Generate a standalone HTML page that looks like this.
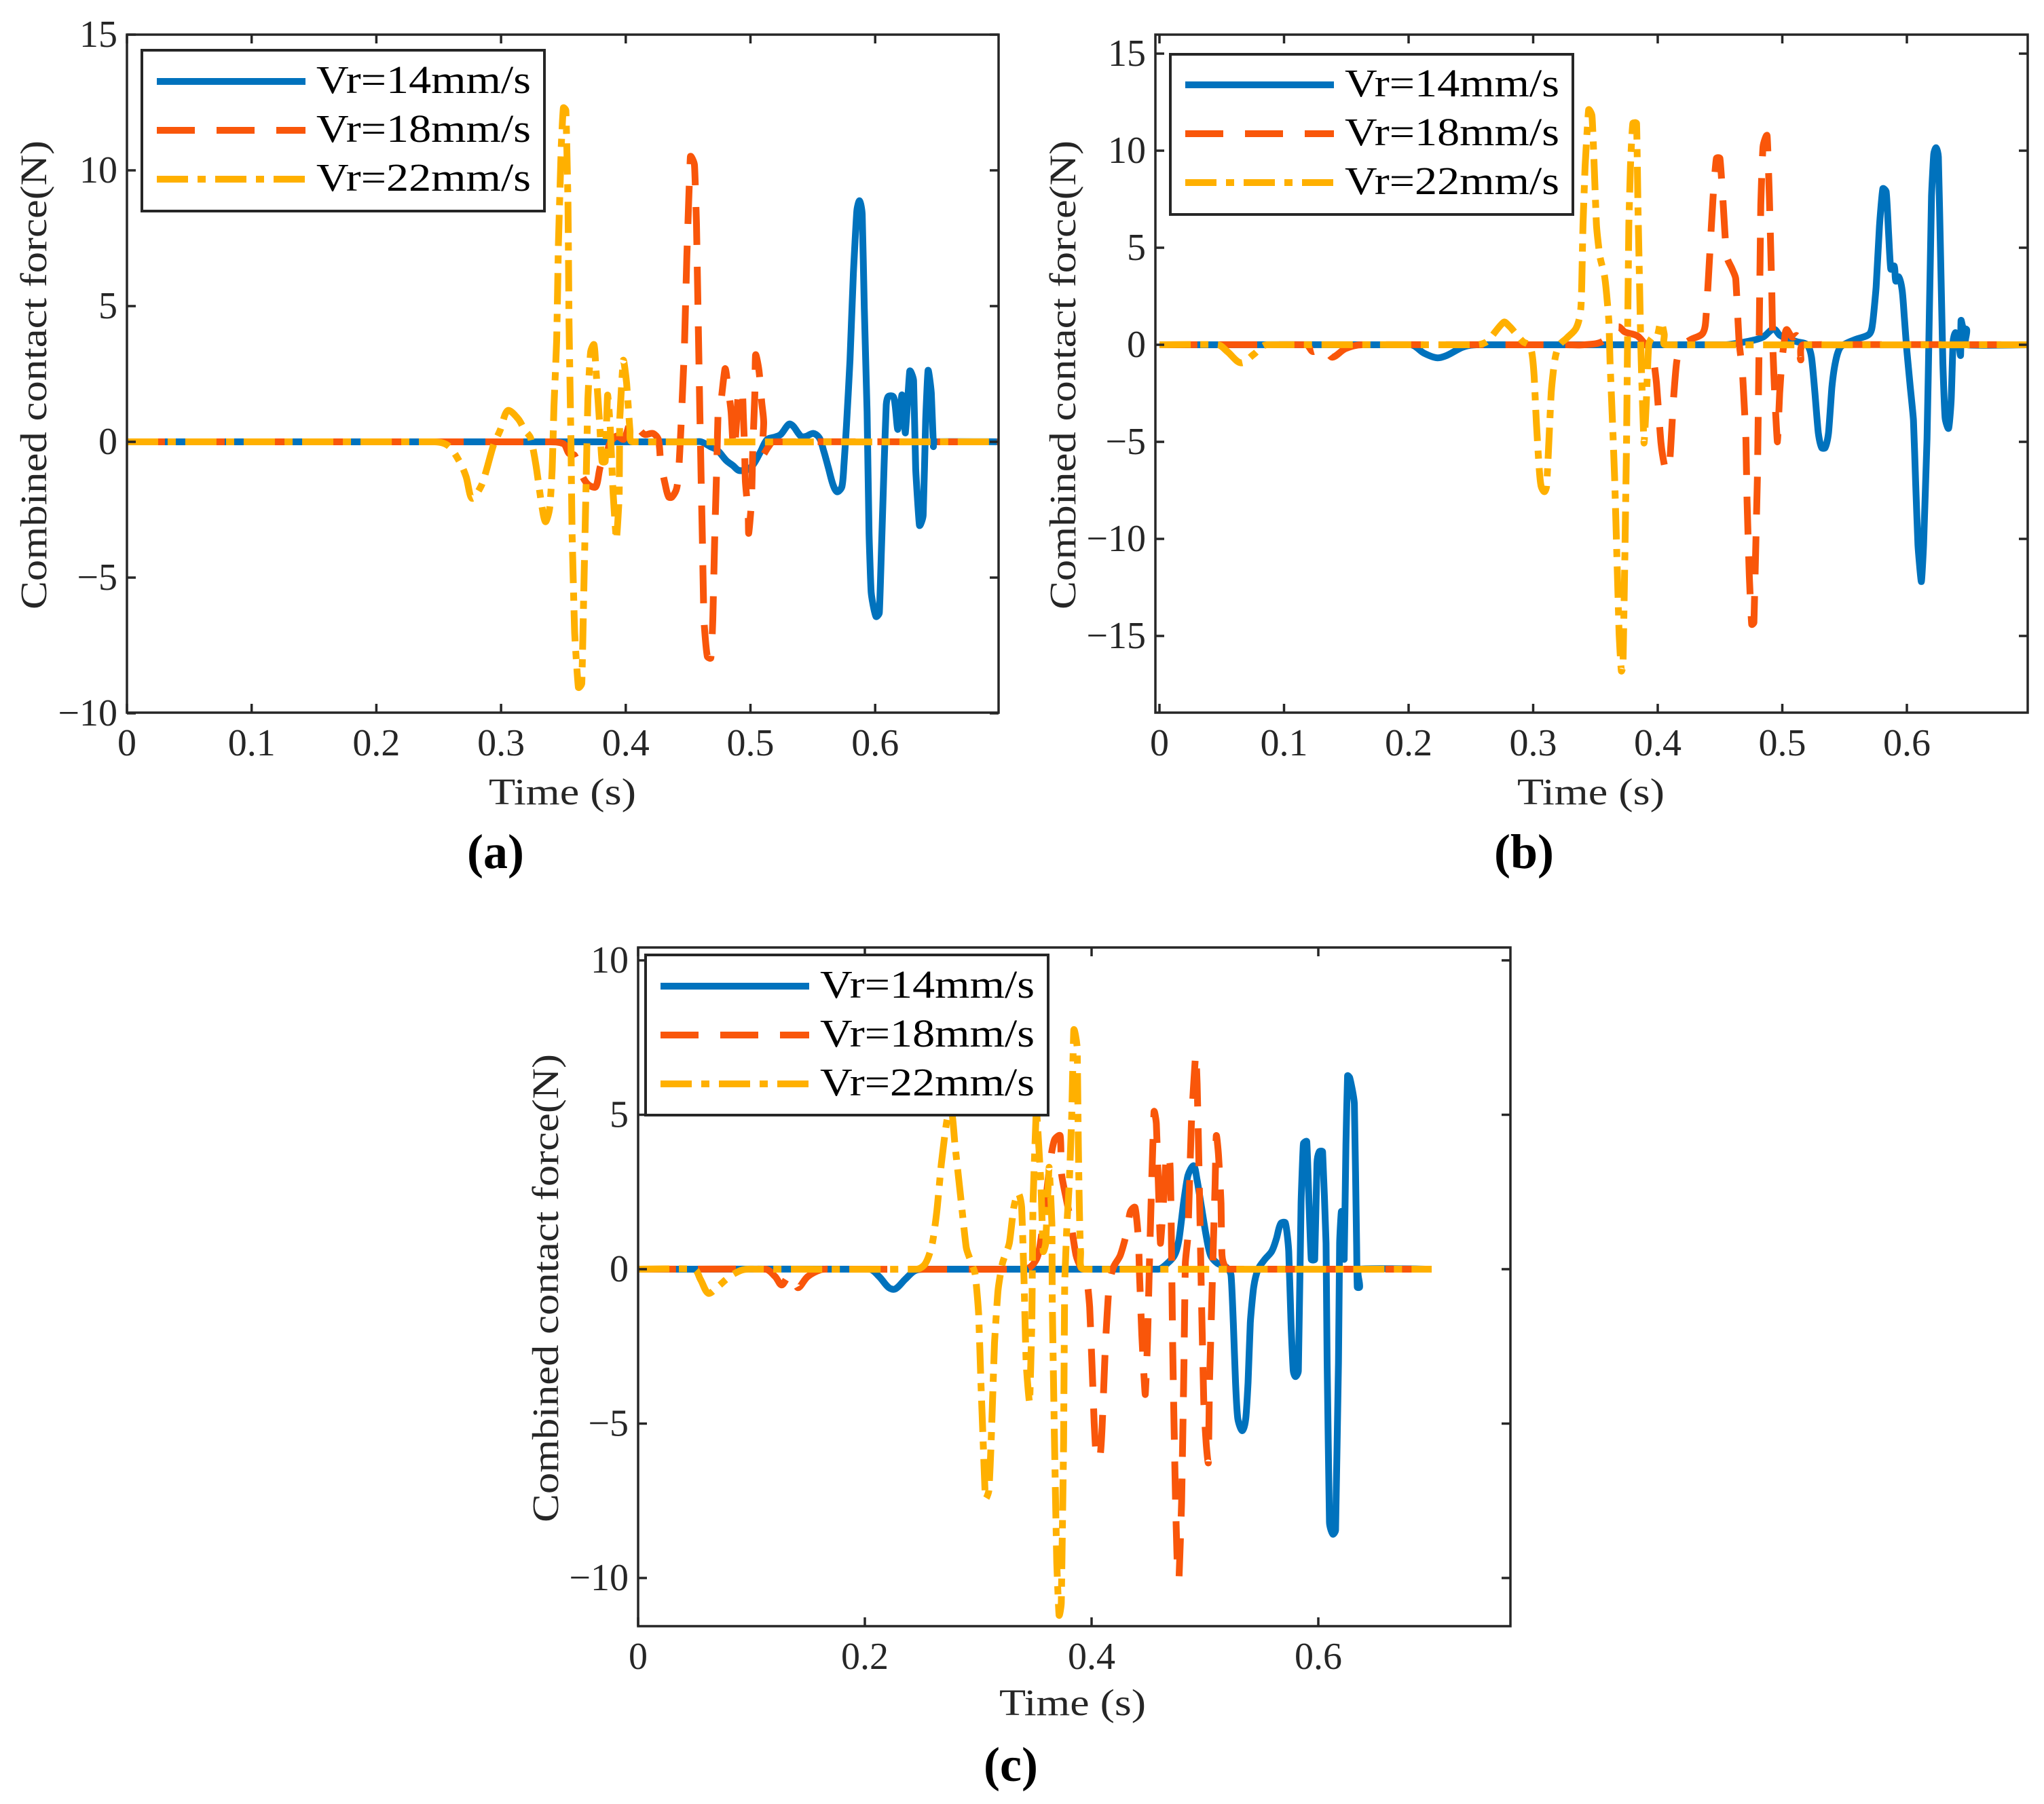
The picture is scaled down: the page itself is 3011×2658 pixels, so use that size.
<!DOCTYPE html>
<html lang="en">
<head>
<meta charset="utf-8">
<title>Combined contact force vs time</title>
<style>
html,body{margin:0;padding:0;background:#fff;}
svg{display:block;font-family:"Liberation Serif",serif;}
.tick-label{font-size:56px;fill:#262626;}
.axis-title{font-size:55px;fill:#262626;}
.legend-text{font-size:58px;fill:#000;}
.panel-tag{font-size:72px;font-weight:bold;fill:#000;text-anchor:middle;}
</style>
</head>
<body>
<svg id="figure" xmlns="http://www.w3.org/2000/svg" width="3011" height="2658" viewBox="0 0 3011 2658">
<rect width="3011" height="2658" fill="#fff"/>
<defs>
<clipPath id="clip-a"><rect x="187" y="51" width="1284" height="999"/></clipPath>
<clipPath id="clip-b"><rect x="1702" y="51" width="1285" height="999"/></clipPath>
<clipPath id="clip-c"><rect x="940" y="1396" width="1285" height="1000"/></clipPath>
</defs>

<g>
  <g id="marks-a" clip-path="url(#clip-a)"></g>
  <g id="axes-a"></g>
  <text class="axis-title" transform="translate(68,898) rotate(-90)" textLength="691" lengthAdjust="spacingAndGlyphs">Combined contact force(N)</text>
  <text class="axis-title" x="720" y="1185" textLength="217" lengthAdjust="spacingAndGlyphs">Time (s)</text>
  <g>
    <rect x="209" y="74" width="593" height="237" fill="#fff" stroke="#262626" stroke-width="4"/>
    <line x1="231" x2="450" y1="120" y2="120" stroke="#0072BD" stroke-width="10"/>
    <line x1="231" x2="450" y1="192" y2="192" stroke="#F9560A" stroke-width="10" stroke-dasharray="56 32"/>
    <line x1="231" x2="450" y1="264" y2="264" stroke="#FFB000" stroke-width="10" stroke-dasharray="46 14 12 14"/>
    <text class="legend-text" x="466" y="137" textLength="316" lengthAdjust="spacingAndGlyphs">Vr=14mm/s</text>
    <text class="legend-text" x="466" y="209" textLength="316" lengthAdjust="spacingAndGlyphs">Vr=18mm/s</text>
    <text class="legend-text" x="466" y="281" textLength="316" lengthAdjust="spacingAndGlyphs">Vr=22mm/s</text>
  </g>
  <text class="panel-tag" x="730" y="1279">(a)</text>
</g>

<g>
  <g id="marks-b" clip-path="url(#clip-b)"></g>
  <g id="axes-b"></g>
  <text class="axis-title" transform="translate(1584,898) rotate(-90)" textLength="691" lengthAdjust="spacingAndGlyphs">Combined contact force(N)</text>
  <text class="axis-title" x="2235" y="1185" textLength="217" lengthAdjust="spacingAndGlyphs">Time (s)</text>
  <g>
    <rect x="1724" y="80" width="593" height="236" fill="#fff" stroke="#262626" stroke-width="4"/>
    <line x1="1746" x2="1965" y1="125" y2="125" stroke="#0072BD" stroke-width="10"/>
    <line x1="1746" x2="1965" y1="197" y2="197" stroke="#F9560A" stroke-width="10" stroke-dasharray="56 32"/>
    <line x1="1746" x2="1965" y1="269" y2="269" stroke="#FFB000" stroke-width="10" stroke-dasharray="46 14 12 14"/>
    <text class="legend-text" x="1981" y="142" textLength="316" lengthAdjust="spacingAndGlyphs">Vr=14mm/s</text>
    <text class="legend-text" x="1981" y="214" textLength="316" lengthAdjust="spacingAndGlyphs">Vr=18mm/s</text>
    <text class="legend-text" x="1981" y="286" textLength="316" lengthAdjust="spacingAndGlyphs">Vr=22mm/s</text>
  </g>
  <text class="panel-tag" x="2245" y="1279">(b)</text>
</g>

<g>
  <g id="marks-c" clip-path="url(#clip-c)"></g>
  <g id="axes-c"></g>
  <text class="axis-title" transform="translate(822,2243) rotate(-90)" textLength="690" lengthAdjust="spacingAndGlyphs">Combined contact force(N)</text>
  <text class="axis-title" x="1472" y="2527" textLength="216" lengthAdjust="spacingAndGlyphs">Time (s)</text>
  <g>
    <rect x="951" y="1407" width="593" height="236" fill="#fff" stroke="#262626" stroke-width="4"/>
    <line x1="973" x2="1192" y1="1453" y2="1453" stroke="#0072BD" stroke-width="10"/>
    <line x1="973" x2="1192" y1="1525" y2="1525" stroke="#F9560A" stroke-width="10" stroke-dasharray="56 32"/>
    <line x1="973" x2="1192" y1="1597" y2="1597" stroke="#FFB000" stroke-width="10" stroke-dasharray="46 14 12 14"/>
    <text class="legend-text" x="1208" y="1470" textLength="316" lengthAdjust="spacingAndGlyphs">Vr=14mm/s</text>
    <text class="legend-text" x="1208" y="1542" textLength="316" lengthAdjust="spacingAndGlyphs">Vr=18mm/s</text>
    <text class="legend-text" x="1208" y="1614" textLength="316" lengthAdjust="spacingAndGlyphs">Vr=22mm/s</text>
  </g>
  <text class="panel-tag" x="1489" y="2624">(c)</text>
</g>
</svg>

<script>
// ===== Tick labels =====
const aXTicks = [0, 0.1, 0.2, 0.3, 0.4, 0.5, 0.6];
const aYTicks = [-10, -5, 0, 5, 10, 15];
const bXTicks = [0, 0.1, 0.2, 0.3, 0.4, 0.5, 0.6];
const bYTicks = [-15, -10, -5, 0, 5, 10, 15];
const cXTicks = [0, 0.2, 0.4, 0.6];
const cYTicks = [-10, -5, 0, 5, 10];

// ===== Panel (a) =====
const aBlueT = [0,.455,.4605,.468,.4735,.4807,.4861,.4905,.4954,.4986,.5025,.508,.5133,.5199,.5242,.5308,.534,.5406,.5444,.5504,.5553,.5586,.5624,.5662,.5695,.5733,.575,.577,.5798,.5825,.5853,.5875,.5896,.5913,.5935,.5951,.5968,.6006,.6033,.605,.6072,.6089,.6105,.6144,.616,.6182,.6215,.6242,.6277,.6308,.6325,.6355,.6385,.6405,.6424,.6450,.6467,.6475,.7];
const aBlueF = [0,0,0,-.18,-.31,-.69,-.88,-1.05,-1.05,-1,-.82,-.37,.08,.18,.27,.65,.59,.2,.2,.31,.14,-.31,-.94,-1.58,-1.84,-1.65,-.82,.59,3,6.2,8.5,8.88,8.37,4.92,1.1,-3.37,-5.54,-6.43,-6.3,-4,-.82,1.35,1.67,1.67,1.35,.46,1.73,.33,2.6,2.25,-1,-3.07,-2.7,.8,2.63,1.8,-.17,0,0];
const aOrangeT = [0,.3355,.35,.3545,.359,.3647,.37,.376,.38,.3843,.3865,.3925,.3985,.4045,.41,.4153,.4217,.4262,.428,.4317,.4344,.4371,.4409,.4426,.4442,.447,.449,.4518,.4551,.4567,.4578,.4594,.4605,.4616,.4627,.4654,.4682,.4698,.4714,.473,.4741,.4763,.4796,.4817,.4845,.4861,.4872,.4888,.4905,.4932,.4943,.4954,.4959,.4981,.4986,.5008,.5019,.5035,.5041,.5068,.509,.5106,.5095,.5144,.5185,.7];
const aOrangeF = [0,0,-.07,-.43,-.5,-1.22,-1.58,-1.65,-.86,-.79,-.14,.21,.1,.79,.5,.27,.31,.08,-.75,-1.58,-2.03,-2.03,-1.7,-.94,.46,3.4,6.84,10.5,10.2,8,5.2,1.1,-1.45,-4,-6.56,-7.9,-7.96,-6.56,-3.37,-.82,1.1,1.48,2.69,2.12,1.1,-.18,-.24,.71,1.86,1.93,.97,-.43,-1.45,-2.6,-3.37,-2.2,-.18,1.73,3.2,2.63,1.48,.71,-.5,-.18,0,0];
const aYellowT = [0,.2466,.2575,.2666,.272,.2766,.2838,.288,.2938,.2993,.3053,.3135,.319,.3237,.328,.332,.3355,.339,.341,.3424,.3446,.346,.3483,.35,.352,.3537,.3545,.356,.357,.359,.362,.3647,.3663,.368,.3696,.3718,.3745,.376,.379,.381,.3835,.3854,.3875,.3898,.3925,.3947,.3952,.398,.4007,.4034,.4055,.7];
const aYellowF = [0,0,-.14,-.72,-1.29,-2.08,-1.65,-1.08,-.14,.43,1.15,.86,.43,.14,-.86,-2.15,-2.94,-2.44,-1,1.29,3.73,7.3,10.9,12.3,12.2,8.75,4.45,.14,-3.44,-7.03,-9.04,-8.9,-5.6,-2,1.58,3.3,3.58,2.73,.72,-.72,-.72,1.72,.6,-1.86,-3.59,-2,.86,3,2.15,.43,0,0];

// ===== Panel (b) =====
const bBlueT = [0,.2017,.2123,.2228,.2306,.2437,.2546,.4534,.4734,.4843,.4916,.4942,.4979,.5043,.5116,.5198,.5234,.5262,.5289,.5316,.5344,.5371,.5398,.5425,.5462,.5516,.5589,.5698,.5725,.5753,.578,.5807,.5834,.5853,.5871,.5898,.5911,.5934,.5962,.598,.5998,.6025,.6053,.6071,.6089,.6116,.6134,.6162,.618,.6198,.6216,.6235,.6253,.6271,.6289,.6307,.6335,.6356,.6371,.6389,.6407,.6431,.6435,.6453,.648,.6482,.7];
const bBlueF = [0,0,-.43,-.67,-.55,-.12,0,0,.19,.39,.78,.78,.5,.31,.16,0,-.62,-2.5,-4.53,-5.3,-5.3,-4.53,-2.2,-.94,-.16,.08,.28,.55,1.1,2.97,6.1,8.04,7.88,5.78,3.9,4.06,3.28,3.5,2.81,1.4,-.16,-2.03,-3.9,-7.18,-10.3,-12.2,-10.3,-4.84,1.4,7.65,9.83,10.15,9.68,4.53,-.94,-3.75,-4.3,-2.8,.16,.62,.47,-.55,1.25,.86,.78,0,0];
const bOrangeT = [0,.1177,.1232,.13,.134,.1388,.1493,.1624,.3264,.3409,.3553,.3681,.3736,.3836,.3905,.3953,.399,.4026,.4063,.409,.4108,.4126,.4153,.4199,.4262,.4362,.4389,.4417,.4444,.4471,.4499,.4526,.4553,.4599,.4626,.4653,.468,.4708,.4717,.4735,.4754,.4772,.48,.4812,.4827,.4845,.4878,.4896,.4915,.4924,.4942,.4961,.4979,.4997,.5016,.5034,.508,.5116,.5134,.5148,.517,.7];
const bOrangeF = [0,0,-.35,-.1,-.3,-.64,-.2,0,0,0,.16,.92,.66,.46,0,-.24,-2,-5.06,-6.47,-6.37,-4.86,-2.85,-.84,-.04,.26,.6,1.57,4.58,7.6,9.6,9.6,7.2,4.58,3.88,3.4,.16,-1.4,-4.86,-8.07,-11.9,-14.4,-14.3,-6.87,-.84,7.2,10.2,10.77,7.65,2.97,-.16,-2.97,-5,-2.5,-.86,.16,.78,.39,.47,0,-.78,0,0];
const bYellowT = [0,.0469,.0545,.0654,.0757,.0861,.2535,.2627,.2763,.2808,.2863,.2918,.2963,.299,.3008,.3026,.3045,.3063,.309,.3108,.3127,.3145,.3172,.3208,.3272,.3345,.3381,.339,.34,.3417,.3445,.3472,.349,.3508,.3535,.3572,.359,.3608,.3617,.3636,.3654,.3672,.369,.3708,.3721,.3736,.375,.3759,.3768,.3781,.38,.383,.3841,.3854,.3863,.3872,.389,.3909,.3927,.3954,.399,.4025,.4052,.4061,.7];
const bYellowF = [0,0,-.35,-.93,-.49,0,0,.16,1.16,.96,.56,.16,0,-.44,-1.65,-4.06,-6.06,-7.27,-7.57,-7.27,-4.86,-2.45,-.84,-.04,.36,.86,1.77,3.17,6.18,9.2,12.1,11.8,9.2,6.18,4.58,3.57,2.57,1.16,-.84,-3.86,-6.87,-10.9,-14.9,-16.8,-16.5,-10.9,-4.86,1.16,6.18,9.2,11.4,11.4,7.2,3.17,.16,-1.85,-5.06,-2.85,-.04,.36,.36,1.16,.56,0,0];

// ===== Panel (c) =====
const cBlueT = [0,.204,.2126,.2212,.2269,.2355,.2441,.2527,.459,.465,.4731,.4771,.4811,.485,.49,.493,.497,.501,.505,.511,.519,.523,.525,.527,.529,.533,.536,.538,.54,.543,.5469,.5529,.5589,.5629,.5669,.5709,.5739,.5759,.5779,.5799,.5824,.5848,.5868,.5898,.5918,.5938,.5968,.5988,.6008,.6038,.6068,.6078,.6098,.6128,.6152,.6178,.6188,.6204,.6228,.6244,.6258,.6278,.6318,.6338,.6344,.6364,.6368,.7];
const cBlueF = [0,0,-.24,-.6,-.64,-.33,-.05,0,0,.13,.45,.97,2.13,3.03,3.35,2.9,2,1.1,.45,.19,.06,-.19,-1.74,-3.68,-4.84,-5.23,-4.84,-3.68,-1.74,-.58,0,.32,.58,.97,1.48,1.5,.58,-1.74,-3.29,-3.48,-3.29,2.13,4.06,4.13,2.13,.32,.32,3.42,3.8,3.8,.84,-3.03,-8.19,-8.58,-8.45,-3.03,.84,1.87,.32,4.06,6.26,6.19,5.35,.84,-.58,-.58,0,0];
const cOrangeT = [0,.1123,.1209,.1266,.1324,.137,.141,.1496,.161,.17,.3413,.3513,.3553,.3593,.3633,.3673,.3723,.3733,.3763,.3813,.3863,.3913,.3953,.3983,.4003,.4023,.4043,.4073,.4093,.4123,.4153,.4193,.4253,.4313,.4343,.4383,.4413,.4423,.4443,.4473,.4493,.4513,.4533,.4551,.4571,.4591,.4607,.4631,.4661,.4691,.4701,.4707,.4715,.4727,.4741,.4755,.4771,.4794,.4815,.4827,.485,.488,.4918,.4931,.4947,.496,.497,.499,.501,.503,.504,.506,.5074,.509,.51,.512,.5142,.515,.518,.522,.7];
const cOrangeF = [0,0,-.24,-.51,-.24,-.2,-.6,-.24,-.02,0,0,.32,.97,2.13,3.42,4.19,4.32,3.16,2.52,1.61,.45,0,-.19,-1.23,-3.03,-4.97,-6.13,-6.13,-5.1,-2.39,-.58,.06,.45,1.23,1.87,2,.97,-.19,-2.13,-4.06,-2.39,.58,3.16,5.1,4.71,2.52,.84,2,3.74,3.42,1.87,0,-2.39,-4.97,-7.55,-9.48,-10,-7.55,-3.03,.19,1.1,4.7,6.97,6,3.42,.84,-1.1,-4.32,-5.6,-6.26,-3.68,-1.1,.84,2.77,4.32,3.68,2.13,.45,.06,0,0];
const cYellowT = [0,.0493,.055,.0619,.0693,.0808,.0923,.1037,.2455,.2535,.2595,.2635,.2675,.2725,.2766,.2794,.2844,.2894,.2934,.2974,.3004,.3024,.3044,.3064,.3094,.3114,.3144,.3174,.3214,.3274,.3314,.3353,.3383,.3403,.3423,.3453,.3473,.3483,.3513,.3553,.3573,.3595,.3625,.365,.3653,.3673,.3693,.3713,.3733,.3753,.3763,.3783,.3803,.3825,.3843,.3873,.3883,.3893,.3903,.3933,.7];
const cYellowF = [0,0,-.33,-.78,-.6,-.24,-.02,0,0,.19,.84,1.87,3.42,4.84,5.1,4.06,2.39,.71,.26,-.19,-1.48,-3.68,-5.61,-7.42,-7.16,-5.61,-2.39,-.71,.19,.84,2,2.45,2,-.19,-3.03,-4.32,-1.74,2.13,5.2,2.77,.58,.84,3.3,1.5,-1.1,-5.6,-9.5,-11.2,-10.8,-5.6,-.45,1.5,2.77,5,7.74,7.16,4,1.87,.58,0,0];

const SVG_NS = 'http://www.w3.org/2000/svg';
const SERIES_STYLE = {
  blue:   { color: '#0072BD', dash: null },
  orange: { color: '#F9560A', dash: '56 32' },
  yellow: { color: '#FFB000', dash: '46 14 12 14' }
};
const MAX_HANDLE = 9;

function make(tag, parent) {
  const el = document.createElementNS(SVG_NS, tag);
  parent.appendChild(el);
  return el;
}

// Smooth path through projected points; short handles keep flat runs flat.
function smoothPath(pts) {
  const dist = (a, b) => Math.hypot(b[0] - a[0], b[1] - a[1]) || 1e-6;
  const tan = pts.map((p, i) => {
    const a = pts[Math.max(0, i - 1)], b = pts[Math.min(pts.length - 1, i + 1)];
    const d = (i > 0 ? dist(a, p) : 0) + (i < pts.length - 1 ? dist(p, b) : 0);
    return [(b[0] - a[0]) / d, (b[1] - a[1]) / d];
  });
  let s = 'M' + pts[0][0].toFixed(1) + ' ' + pts[0][1].toFixed(1);
  for (let i = 0; i < pts.length - 1; i++) {
    const p = pts[i], q = pts[i + 1], d = Math.min(dist(p, q) / 3, MAX_HANDLE);
    s += 'C' + (p[0] + tan[i][0] * d).toFixed(1) + ' ' + (p[1] + tan[i][1] * d).toFixed(1) + ' ' +
         (q[0] - tan[i + 1][0] * d).toFixed(1) + ' ' + (q[1] - tan[i + 1][1] * d).toFixed(1) + ' ' +
         q[0].toFixed(1) + ' ' + q[1].toFixed(1);
  }
  return s;
}

function fmt(v) {
  return v < 0 ? '\u2212' + Math.abs(v) : String(v);
}

function drawPanel(id, frame, xAxis, yAxis, xTicks, yTicks, series) {
  const xScale = t => xAxis.zero + xAxis.perUnit * t;
  const yScale = f => yAxis.zero - yAxis.perUnit * f;
  const marks = document.getElementById('marks-' + id);
  const axes = document.getElementById('axes-' + id);

  series.forEach(s => {
    const path = make('path', marks);
    
    
    path.setAttribute('d', smoothPath(s.t.map((t, i) => [xScale(t), yScale(s.f[i])])));
    path.setAttribute('fill', 'none');
    path.setAttribute('stroke', SERIES_STYLE[s.style].color);
    path.setAttribute('stroke-width', '10');
    path.setAttribute('stroke-linejoin', 'round');
    if (SERIES_STYLE[s.style].dash) path.setAttribute('stroke-dasharray', SERIES_STYLE[s.style].dash);
  });

  const box = make('rect', axes);
  
  
  box.setAttribute('x', frame.left);
  box.setAttribute('y', frame.top);
  box.setAttribute('width', frame.right - frame.left);
  box.setAttribute('height', frame.bottom - frame.top);
  box.setAttribute('fill', 'none');
  box.setAttribute('stroke', '#262626');
  box.setAttribute('stroke-width', '3.5');

  const TICK = 13;
  xTicks.forEach(v => {
    const x = xScale(v);
    [[frame.bottom, frame.bottom - TICK], [frame.top, frame.top + TICK]].forEach(e => {
      const tick = make('line', axes);
      
      
      tick.setAttribute('x1', x);
      tick.setAttribute('x2', x);
      tick.setAttribute('y1', e[0]);
      tick.setAttribute('y2', e[1]);
      tick.setAttribute('stroke', '#262626');
      tick.setAttribute('stroke-width', '3.5');
    });
    const label = make('text', axes);
    
    
    label.setAttribute('class', 'tick-label');
    label.setAttribute('x', x);
    label.setAttribute('y', frame.bottom + 63);
    label.setAttribute('text-anchor', 'middle');
    label.textContent = fmt(v);
  });
  yTicks.forEach(v => {
    const y = yScale(v);
    [[frame.left, frame.left + TICK], [frame.right, frame.right - TICK]].forEach(e => {
      const tick = make('line', axes);
      
      
      tick.setAttribute('x1', e[0]);
      tick.setAttribute('x2', e[1]);
      tick.setAttribute('y1', y);
      tick.setAttribute('y2', y);
      tick.setAttribute('stroke', '#262626');
      tick.setAttribute('stroke-width', '3.5');
    });
    const label = make('text', axes);
    
    
    label.setAttribute('class', 'tick-label');
    label.setAttribute('x', frame.left - 14);
    label.setAttribute('y', y + 18);
    label.setAttribute('text-anchor', 'end');
    label.textContent = fmt(v);
  });
}

drawPanel('a', {left:187,right:1471,top:51,bottom:1050}, {zero:187,perUnit:1837}, {zero:651,perUnit:40}, aXTicks, aYTicks, [
  {label:'vr-14', style:'blue', t:aBlueT, f:aBlueF},
  {label:'vr-18', style:'orange', t:aOrangeT, f:aOrangeF},
  {label:'vr-22', style:'yellow', t:aYellowT, f:aYellowF}
]);
drawPanel('b', {left:1702,right:2987,top:51,bottom:1050}, {zero:1708,perUnit:1835}, {zero:508,perUnit:28.6}, bXTicks, bYTicks, [
  {label:'vr-14', style:'blue', t:bBlueT, f:bBlueF},
  {label:'vr-18', style:'orange', t:bOrangeT, f:bOrangeF},
  {label:'vr-22', style:'yellow', t:bYellowT, f:bYellowF}
]);
drawPanel('c', {left:940,right:2225,top:1396,bottom:2396}, {zero:940,perUnit:1670}, {zero:1870,perUnit:45.5}, cXTicks, cYTicks, [
  {label:'vr-14', style:'blue', t:cBlueT, f:cBlueF},
  {label:'vr-18', style:'orange', t:cOrangeT, f:cOrangeF},
  {label:'vr-22', style:'yellow', t:cYellowT, f:cYellowF}
]);
</script>
</body>
</html>
